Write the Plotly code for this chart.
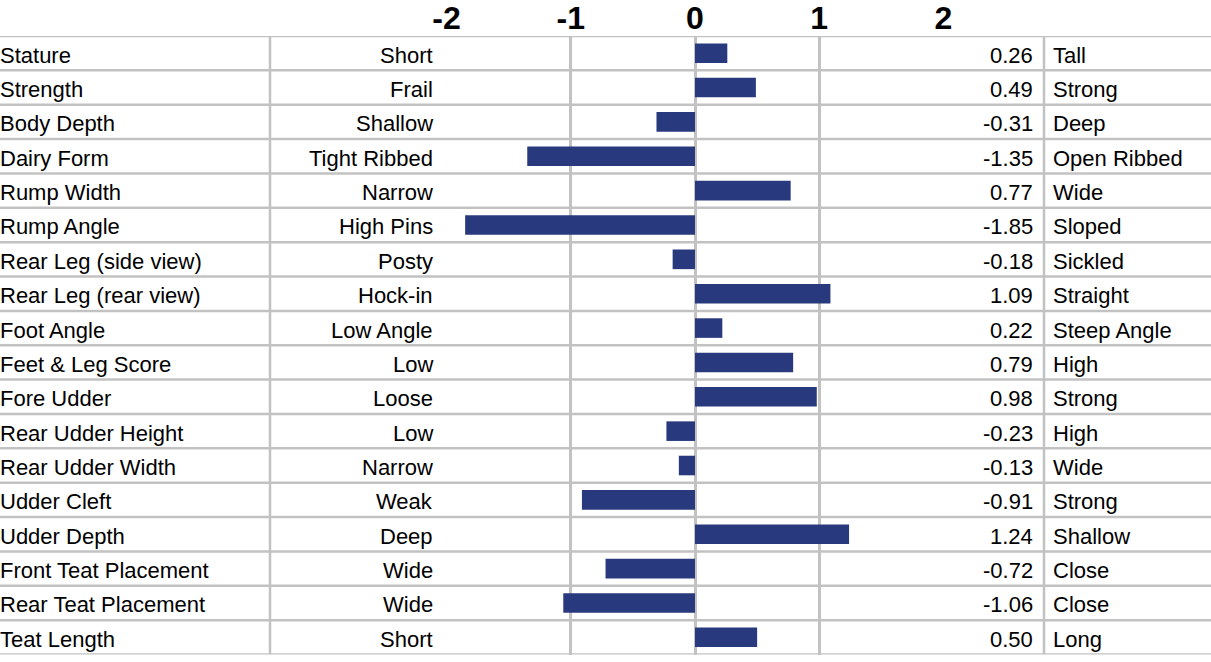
import plotly.graph_objects as go

traits = ["Stature", "Strength", "Body Depth", "Dairy Form", "Rump Width", "Rump Angle",
          "Rear Leg (side view)", "Rear Leg (rear view)", "Foot Angle", "Feet & Leg Score",
          "Fore Udder", "Rear Udder Height", "Rear Udder Width", "Udder Cleft", "Udder Depth",
          "Front Teat Placement", "Rear Teat Placement", "Teat Length"]
low_labels = ["Short", "Frail", "Shallow", "Tight Ribbed", "Narrow", "High Pins", "Posty",
              "Hock-in", "Low Angle", "Low", "Loose", "Low", "Narrow", "Weak", "Deep",
              "Wide", "Wide", "Short"]
high_labels = ["Tall", "Strong", "Deep", "Open Ribbed", "Wide", "Sloped", "Sickled",
               "Straight", "Steep Angle", "High", "Strong", "High", "Wide", "Strong",
               "Shallow", "Close", "Close", "Long"]
values = [0.26, 0.49, -0.31, -1.35, 0.77, -1.85, -0.18, 1.09, 0.22, 0.79, 0.98,
          -0.23, -0.13, -0.91, 1.24, -0.72, -1.06, 0.50]
tick_vals = [-2, -1, 0, 1, 2]
tick_text = ["-2", "-1", "0", "1", "2"]

W, H = 1211, 662
BAR_COLOR = "#283a7d"
GRID = "#c2c2c2"
FONT = "Liberation Sans, Arial, sans-serif"

fig = go.Figure()
fig.add_trace(go.Bar(
    x=values, y=traits, orientation="h",
    marker=dict(color=BAR_COLOR, line=dict(width=0)),
    width=0.57, hoverinfo="x+y",
))

# layout geometry (pixels -> paper fractions)
x_left_px, x_right_px = 446.5, 943.5
y_top_px, y_bot_px = 36, 654.5

n = len(traits)
shapes = []
for i in range(n + 1):
    shapes.append(dict(type="line", xref="paper", yref="y", x0=0, x1=1,
                       y0=i - 0.5, y1=i - 0.5, line=dict(color=GRID, width=2.5), layer="below"))
for px in (270, 1044):
    shapes.append(dict(type="line", xref="paper", yref="y", x0=px / W, x1=px / W,
                       y0=-0.5, y1=n - 0.5, line=dict(color=GRID, width=2.5), layer="below"))

annotations = []
tf = dict(family=FONT, size=22, color="#000000")
common = dict(xref="paper", yref="y", showarrow=False, yanchor="middle", font=tf,
              borderpad=0, borderwidth=0, yshift=-2)
for t, lo, hi, v in zip(traits, low_labels, high_labels, values):
    annotations.append(dict(x=0, y=t, text=t, xanchor="left", **common))
    annotations.append(dict(x=433 / W, y=t, text=lo, xanchor="right", **common))
    annotations.append(dict(x=1033 / W, y=t, text=f"{v:.2f}", xanchor="right", **common))
    annotations.append(dict(x=1053 / W, y=t, text=hi, xanchor="left", **common))

fig.update_layout(
    width=W, height=H,
    margin=dict(l=0, r=0, t=0, b=0, pad=0, autoexpand=False),
    paper_bgcolor="white", plot_bgcolor="white",
    showlegend=False,
    shapes=shapes,
    annotations=annotations,
    xaxis=dict(
        domain=[x_left_px / W, x_right_px / W],
        range=[-2, 2], side="top",
        tickvals=tick_vals, ticktext=tick_text,
        tickfont=dict(family=FONT, size=32, color="#000000", weight="bold"),
        showgrid=True, gridcolor=GRID, gridwidth=2.5,
        zeroline=False, showline=False, ticks="", fixedrange=True,
        ticklabelstandoff=0, automargin=False,
    ),
    yaxis=dict(
        domain=[(H - y_bot_px) / H, (H - y_top_px) / H],
        categoryorder="array", categoryarray=traits,
        range=[n - 0.5, -0.5],
        showticklabels=False, showgrid=False, zeroline=False, showline=False,
        ticks="", fixedrange=True, automargin=False,
    ),
)

fig.write_html(
    "out.html",
    config={"displayModeBar": False},
    post_script="document.body.style.margin='0';document.body.style.overflow='hidden';",
)
